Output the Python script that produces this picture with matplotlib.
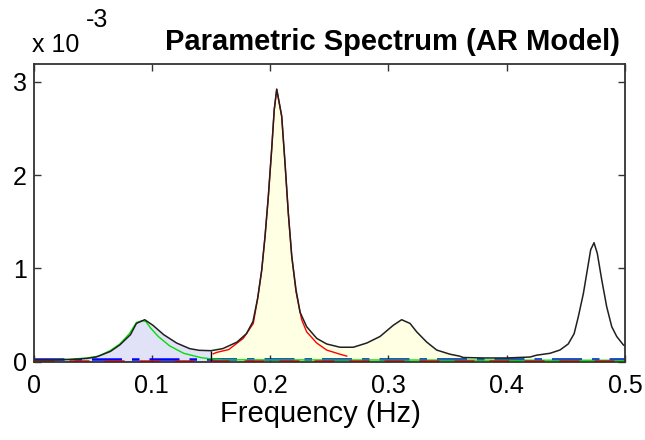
import numpy as np
import matplotlib.pyplot as plt

plt.rcParams['font.family'] = ['Liberation Sans', 'DejaVu Sans']

# total AR spectrum (black), frequency in Hz, power in units of 1e-3
freq = [0.000, 0.020, 0.033, 0.045, 0.053, 0.065, 0.073, 0.082, 0.087, 0.094,
        0.101, 0.110, 0.121, 0.132, 0.140, 0.150, 0.160, 0.172, 0.180, 0.1855,
        0.1895, 0.1929, 0.1957, 0.1985, 0.2013, 0.2035, 0.2056, 0.2098, 0.2126,
        0.2154, 0.2183, 0.2219, 0.2253, 0.2309, 0.2394, 0.2478, 0.2591, 0.2703,
        0.2817, 0.2929, 0.3041, 0.3112, 0.3183, 0.3239, 0.3324, 0.3408, 0.3521,
        0.360, 0.3633, 0.380, 0.400, 0.4197, 0.4254, 0.4366, 0.445, 0.452,
        0.457, 0.4605, 0.4648, 0.4681, 0.471, 0.4738, 0.4766, 0.4803, 0.4845,
        0.4888, 0.493, 0.4986, 0.500]
power = [0.02, 0.02, 0.025, 0.035, 0.05, 0.11, 0.18, 0.29, 0.41, 0.45,
         0.39, 0.29, 0.20, 0.14, 0.122, 0.118, 0.14, 0.21, 0.30, 0.43,
         0.68, 0.98, 1.34, 1.77, 2.27, 2.70, 2.92, 2.63, 2.13,
         1.59, 1.13, 0.77, 0.53, 0.375, 0.25, 0.19, 0.155, 0.155,
         0.20, 0.27, 0.39, 0.45, 0.41, 0.32, 0.21, 0.125, 0.08,
         0.06, 0.045, 0.04, 0.04, 0.05, 0.07, 0.09, 0.125, 0.19,
         0.30, 0.48, 0.73, 0.98, 1.20, 1.275, 1.16, 0.88, 0.59,
         0.375, 0.27, 0.18, 0.17]

# first component (green)
freq_c1 = [0.000, 0.030, 0.045, 0.055, 0.065, 0.073, 0.081, 0.087, 0.092, 0.095,
           0.099, 0.1055, 0.115, 0.127, 0.141, 0.150, 0.160, 0.500]
power_c1 = [0.015, 0.025, 0.04, 0.06, 0.12, 0.19, 0.30, 0.42, 0.44, 0.43,
            0.36, 0.27, 0.17, 0.09, 0.045, 0.03, 0.02, 0.015]

# second component (red)
freq_c2 = [0.152, 0.155, 0.165, 0.1773, 0.1858, 0.1895, 0.1929, 0.1957, 0.1985,
           0.2013, 0.2035, 0.2056, 0.2098, 0.2126, 0.2154, 0.2183, 0.2219,
           0.2267, 0.2309, 0.2394, 0.2478, 0.2591, 0.2648]
power_c2 = [0.085, 0.10, 0.13, 0.25, 0.41, 0.68, 0.98, 1.34, 1.77,
            2.27, 2.70, 2.92, 2.63, 2.13, 1.59, 1.13, 0.75,
            0.45, 0.32, 0.20, 0.125, 0.08, 0.06]

# near-zero residual components (dashed)
freq_base = [0.0, 0.5]
power_blue = [0.03, 0.03]
power_red = [0.012, 0.012]

band_split = 0.15
band_end = 0.36

f = np.array(freq)
p = np.array(power) * 1e-3

fig = plt.figure(figsize=(6.45, 4.4), dpi=100)
ax = fig.add_axes([33.5 / 645, 1 - 361.7 / 440, (625 - 33.5) / 645, (361.7 - 64) / 440])

lo = f <= band_split
hi = (f >= band_split) & (f <= band_end)
ax.fill_between(f[lo], 0, p[lo], color='#E1E1F7', lw=0)
ax.fill_between(f[hi], 0, p[hi], color='#FFFFE3', lw=0)

ax.plot(freq_base, np.array(power_blue) * 1e-3, color='blue', lw=1.8, dashes=(12, 4, 3, 4))
ax.plot(freq_c1, np.array(power_c1) * 1e-3, color='#00E000', lw=1.0)
ax.plot(freq_base, np.array(power_red) * 1e-3, color='red', lw=1.8, dashes=(8, 6))
ax.plot(freq_c2, np.array(power_c2) * 1e-3, color='red', lw=1.0)
ax.plot(f, p, color='#202020', lw=1.1)
ax.vlines(band_split, 0, np.interp(band_split, f, p), color='black', lw=1.0)

ax.set_xlim(0, 0.5)
ax.set_ylim(0, 3.19e-3)
ax.set_xticks([0, 0.1, 0.2, 0.3, 0.4, 0.5])
ax.set_xticklabels(['0', '0.1', '0.2', '0.3', '0.4', '0.5'])
ax.set_yticks([0, 1e-3, 2e-3, 3e-3])
ax.set_yticklabels(['0', '1', '2', '3'])
ax.tick_params(direction='in', top=True, right=True, length=5, width=1,
               color='#333333', labelsize=18)
ax.tick_params(axis='x', pad=9)
ax.tick_params(axis='y', pad=5)
for s in ax.spines.values():
    s.set_color('#333333')
    s.set_linewidth(1.3)

ax.set_xlabel('Frequency (Hz)', fontsize=21, labelpad=1)
ax.xaxis.label.set_x((320 - 33.5) / 591.5)
fig.text(392.5 / 645, 1 - 42 / 440, 'Parametric Spectrum (AR Model)',
         ha='center', va='center', fontsize=21, fontweight='bold')
fig.text(32 / 645, 1 - 45 / 440, 'x 10', ha='left', va='center', fontsize=18)
fig.text(86 / 645, 1 - 20 / 440, '-3', ha='left', va='center', fontsize=18)

fig.savefig('out.png', dpi=100)
